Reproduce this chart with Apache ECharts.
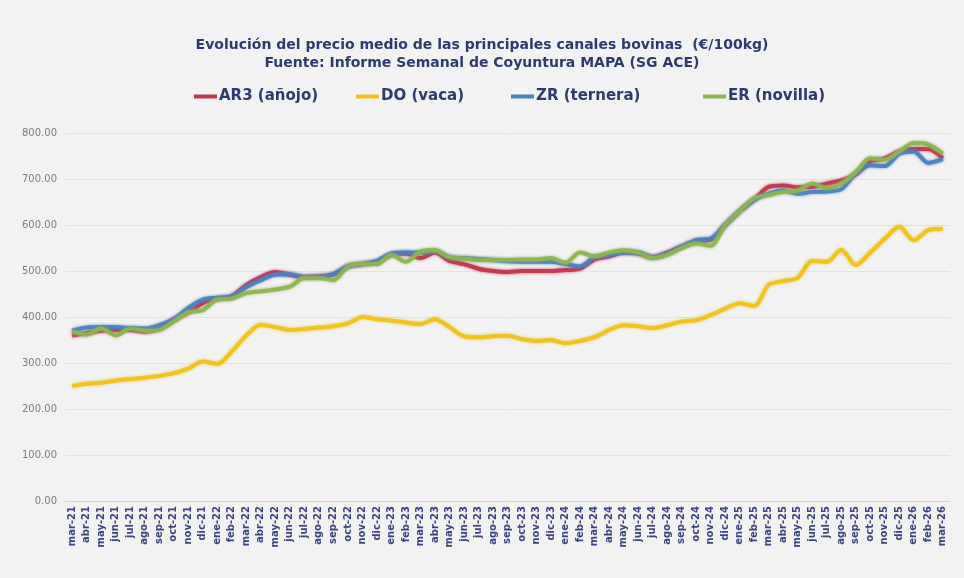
<!DOCTYPE html>
<html>
<head>
<meta charset="utf-8">
<script src="https://cdn.jsdelivr.net/npm/echarts@6/dist/echarts.min.js"></script>
<style>
html,body{margin:0;padding:0;background:#f2f2f2;}
#c{width:964px;height:578px;}
</style>
</head>
<body>
<div id="c"></div>
<script>
const months = ["mar-21","abr-21","may-21","jun-21","jul-21","ago-21","sep-21","oct-21","nov-21","dic-21",
"ene-22","feb-22","mar-22","abr-22","may-22","jun-22","jul-22","ago-22","sep-22","oct-22","nov-22","dic-22",
"ene-23","feb-23","mar-23","abr-23","may-23","jun-23","jul-23","ago-23","sep-23","oct-23","nov-23","dic-23",
"ene-24","feb-24","mar-24","abr-24","may-24","jun-24","jul-24","ago-24","sep-24","oct-24","nov-24","dic-24",
"ene-25","feb-25","mar-25","abr-25","may-25","jun-25","jul-25","ago-25","sep-25","oct-25","nov-25","dic-25",
"ene-26","feb-26","mar-26"];

const ar3 = [360,365,370,372,372,368,375,395,410,430,440,445,470,487,498,492,487,488,492,510,515,520,
535,538,528,540,522,515,505,500,498,500,500,500,502,505,525,532,540,538,530,540,553,565,568,600,
630,655,683,686,682,683,690,697,710,738,745,760,765,765,745];
const dovaca = [250,255,257,262,265,268,272,278,288,303,298,325,360,383,378,372,374,377,380,386,400,395,
392,388,385,395,378,358,356,358,359,352,348,350,343,348,356,372,382,380,376,382,390,393,404,418,
430,424,470,478,485,522,520,546,513,540,570,596,567,589,592];
const zr = [370,377,378,378,376,375,382,395,420,438,442,445,465,480,492,493,487,488,493,510,515,522,
538,540,540,544,530,528,526,524,521,520,520,520,515,510,530,535,540,540,530,538,553,567,570,600,
630,655,668,675,668,672,673,678,712,730,728,755,760,735,743];
const er = [368,362,375,360,375,370,372,390,410,415,438,440,452,456,460,466,485,485,480,510,515,515,
535,520,542,545,530,527,524,524,524,525,525,528,518,540,532,540,545,540,528,535,550,560,555,600,
630,658,665,672,675,690,680,690,715,745,742,760,778,775,755];

const seriesNames = ["AR3 (añojo)","DO (vaca)","ZR (ternera)","ER (novilla)"];
const seriesData = [ar3, dovaca, zr, er];
const colors = ["#c4344c","#eec21c","#4a80c0","#8db451"];

const FONT = "'DejaVu Sans', 'Open Sans', sans-serif";
const NAVY = "#2e3a6c";

const chart = echarts.init(document.getElementById('c'), null, {renderer:'canvas'});
const legendLefts = [189, 351, 506, 698];
const option = {
  backgroundColor: '#f2f2f2',
  animation: false,
  title: [{
    text: 'Evolución del precio medio de las principales canales bovinas  (€/100kg)',
    left: 'center', top: 33,
    textStyle: {fontFamily: FONT, fontWeight: 'bold', fontSize: 14, color: NAVY}
  },{
    text: 'Fuente: Informe Semanal de Coyuntura MAPA (SG ACE)',
    left: 'center', top: 51,
    textStyle: {fontFamily: FONT, fontWeight: 'bold', fontSize: 14, color: NAVY}
  }],
  legend: seriesNames.map((n, i) => ({
    data: [n],
    left: legendLefts[i], top: 84,
    icon: 'rect', itemWidth: 23, itemHeight: 4, itemGap: 4,
    textStyle: {fontFamily: FONT, fontWeight: 'bold', fontSize: 15, color: NAVY, padding: [0,0,0,-3]}
  })),
  grid: {left: 65, right: 14, top: 133, bottom: 77},
  xAxis: {
    type: 'category',
    data: months,
    boundaryGap: true,
    axisLine: {lineStyle: {color: '#d4d4d4', width: 1}},
    axisTick: {show: false},
    axisLabel: {rotate: 90, interval: 0, fontFamily: FONT, fontWeight: 'bold', fontSize: 10, color: '#3c4580', margin: 5}
  },
  yAxis: {
    type: 'value',
    min: 0, max: 800, interval: 100,
    axisLine: {show: false},
    axisTick: {show: false},
    splitLine: {lineStyle: {color: '#e3e3e3', width: 1}},
    axisLabel: {
      formatter: v => v.toFixed(2),
      fontFamily: FONT, fontSize: 10, color: '#7a7a8a', margin: 8
    }
  },
  series: seriesNames.map((n, i) => ({
    name: n,
    type: 'line',
    data: seriesData[i],
    smooth: 0.3,
    showSymbol: false,
    symbol: 'none',
    itemStyle: {color: colors[i]},
    lineStyle: {color: colors[i], width: 4, shadowColor: colors[i], shadowBlur: 3, opacity: 0.9}
  }))
};
chart.setOption(option);
</script>
</body>
</html>
